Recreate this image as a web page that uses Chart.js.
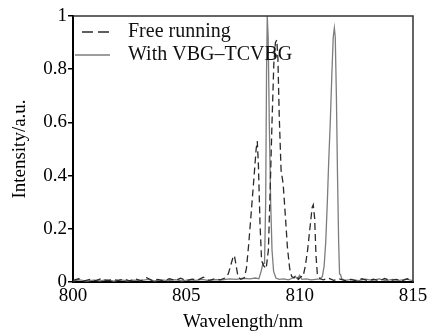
<!DOCTYPE html>
<html>
<head>
<meta charset="utf-8">
<script src="https://cdn.jsdelivr.net/npm/chart.js@4.4.1/dist/chart.umd.min.js"></script>
<style>
    body { margin: 0; background: #fff; }
    #chartBox { width: 431px; height: 331px; }
</style>
</head>
<body>
<div id="chartBox"><canvas id="spectrum"></canvas></div>
<script>
// free running (dashed)
var freeWavelength = [
    800.00, 800.25, 800.50, 800.75, 801.00, 801.25, 801.50, 801.75, 802.00, 802.25,
    802.50, 802.75, 803.00, 803.25, 803.50, 803.75, 804.00, 804.25, 804.50, 804.75,
    805.00, 805.25, 805.50, 805.75, 806.00, 806.25, 806.50, 806.70, 806.85, 806.95,
    807.05, 807.12, 807.20, 807.28, 807.40, 807.55, 807.65, 807.75, 807.88, 808.00,
    808.08, 808.13, 808.18, 808.25, 808.32, 808.42, 808.52, 808.62, 808.70, 808.78,
    808.86, 808.93, 808.99, 809.04, 809.10, 809.18, 809.27, 809.36, 809.46, 809.56,
    809.65, 809.75, 809.85, 809.95, 810.05, 810.15, 810.25, 810.35, 810.45, 810.55,
    810.60, 810.66, 810.72, 810.78, 810.90, 811.05, 811.25, 811.50, 811.75, 812.00,
    812.25, 812.50, 812.75, 813.00, 813.25, 813.50, 813.75, 814.00, 814.25, 814.50,
    814.75, 815.00
];
var freeIntensity = [
    0.006, 0.012, 0.004, 0.010, 0.005, 0.013, 0.004, 0.009, 0.006, 0.011,
    0.004, 0.012, 0.005, 0.016, 0.005, 0.010, 0.004, 0.012, 0.006, 0.014,
    0.005, 0.011, 0.007, 0.018, 0.006, 0.012, 0.008, 0.015, 0.030, 0.060,
    0.090, 0.100, 0.060, 0.020, 0.010, 0.015, 0.050, 0.140, 0.280, 0.410,
    0.500, 0.530, 0.440, 0.220, 0.080, 0.060, 0.050, 0.120, 0.350, 0.600,
    0.820, 0.900, 0.910, 0.840, 0.620, 0.420, 0.370, 0.260, 0.130, 0.050,
    0.020, 0.015, 0.025, 0.010, 0.020, 0.020, 0.060, 0.120, 0.200, 0.280,
    0.290, 0.240, 0.100, 0.030, 0.012, 0.008, 0.015, 0.006, 0.012, 0.005,
    0.010, 0.004, 0.012, 0.005, 0.011, 0.004, 0.013, 0.005, 0.010, 0.004,
    0.012, 0.005
];

// with VBG-TCVBG (solid)
var vbgWavelength = [
    800.00, 800.30, 800.60, 800.90, 801.20, 801.50, 801.80, 802.10, 802.40, 802.70,
    803.00, 803.30, 803.60, 803.90, 804.20, 804.50, 804.80, 805.10, 805.40, 805.70,
    806.00, 806.30, 806.60, 806.90, 807.20, 807.50, 807.80, 808.05, 808.20, 808.30,
    808.38, 808.45, 808.50, 808.54, 808.57, 808.61, 808.66, 808.72, 808.78, 808.85,
    808.95, 809.10, 809.30, 809.50, 809.70, 809.80, 809.90, 810.00, 810.10, 810.30,
    810.50, 810.70, 810.90, 811.00, 811.08, 811.15, 811.22, 811.28, 811.35, 811.42,
    811.48, 811.53, 811.57, 811.62, 811.67, 811.72, 811.76, 811.80, 811.86, 812.00,
    812.30, 812.60, 812.90, 813.20, 813.50, 813.80, 814.10, 814.40, 814.70, 815.00
];
var vbgIntensity = [
    0.004, 0.008, 0.003, 0.007, 0.004, 0.009, 0.003, 0.008, 0.004, 0.007,
    0.005, 0.010, 0.004, 0.008, 0.005, 0.009, 0.004, 0.008, 0.006, 0.010,
    0.005, 0.009, 0.008, 0.012, 0.010, 0.014, 0.012, 0.015, 0.012, 0.040,
    0.070, 0.070, 0.300, 0.800, 1.000, 0.920, 0.600, 0.300, 0.120, 0.040,
    0.015, 0.010, 0.012, 0.008, 0.015, 0.022, 0.012, 0.025, 0.010, 0.012,
    0.008, 0.010, 0.012, 0.020, 0.060, 0.150, 0.300, 0.450, 0.600, 0.780,
    0.920, 0.955, 0.920, 0.700, 0.400, 0.150, 0.030, 0.028, 0.012, 0.006,
    0.010, 0.005, 0.011, 0.006, 0.012, 0.005, 0.010, 0.006, 0.011, 0.005
];

var xTicks = [800, 805, 810, 815];
var yTicks = [0, 0.2, 0.4, 0.6, 0.8, 1];
var legendLabels = ['Free running', 'With VBG\u2013TCVBG'];

var serif = '"Liberation Serif", "Times New Roman", serif';

function toPoints(xs, ys) {
    return xs.map(function (x, i) {
        return { x: x, y: ys[i] };
    });
}

// top and right frame lines
var framePlugin = {
    id: 'frame',
    afterDraw: function (chart) {
        var a = chart.chartArea;
        var ctx = chart.ctx;
        ctx.save();
        ctx.strokeStyle = '#333';
        ctx.lineWidth = 1.5;
        ctx.beginPath();
        ctx.moveTo(a.left, a.top);
        ctx.lineTo(a.right, a.top);
        ctx.lineTo(a.right, a.bottom);
        ctx.stroke();
        ctx.restore();
    }
};

// legend inside the plot, top left
var legendPlugin = {
    id: 'insideLegend',
    afterDraw: function (chart) {
        var ctx = chart.ctx;
        var sets = chart.data.datasets;
        ctx.save();
        ctx.font = '20px ' + serif;
        ctx.textBaseline = 'middle';
        ctx.fillStyle = '#111';
        for (var i = 0; i < sets.length; i++) {
            var y = 32 + i * 23;
            ctx.strokeStyle = sets[i].borderColor;
            ctx.lineWidth = 1.3;
            ctx.setLineDash(sets[i].borderDash ? [11, 5] : []);
            ctx.beginPath();
            ctx.moveTo(i === 0 ? 82 : 75, y);
            ctx.lineTo(110, y);
            ctx.stroke();
            ctx.setLineDash([]);
            ctx.fillText(sets[i].label, 128, y);
        }
        ctx.restore();
    }
};

new Chart(document.getElementById('spectrum'), {
    type: 'line',
    data: {
        datasets: [{
            label: legendLabels[0],
            data: toPoints(freeWavelength, freeIntensity),
            borderColor: '#2b2b2b',
            borderWidth: 1.3,
            borderDash: [7, 4],
            pointRadius: 0,
            tension: 0
        }, {
            label: legendLabels[1],
            data: toPoints(vbgWavelength, vbgIntensity),
            borderColor: '#7d7d7d',
            borderWidth: 1.3,
            pointRadius: 0,
            tension: 0
        }]
    },
    options: {
        responsive: true,
        maintainAspectRatio: false,
        animation: false,
        layout: { padding: { top: 16, right: 18, left: 0, bottom: 0 } },
        plugins: {
            legend: { display: false },
            tooltip: { enabled: false }
        },
        scales: {
            x: {
                type: 'linear',
                min: 800,
                max: 815,
                afterFit: function (scale) { scale.height = 49; },
                afterBuildTicks: function (scale) {
                    scale.ticks = xTicks.map(function (v) { return { value: v }; });
                },
                ticks: {
                    padding: 3,
                    color: '#000',
                    font: { family: serif, size: 19 }
                },
                grid: { display: false, drawTicks: false },
                border: { color: '#000', width: 2 },
                title: {
                    display: true,
                    text: 'Wavelength/nm',
                    color: '#000',
                    padding: { top: 0, bottom: 0 },
                    font: { family: serif, size: 19, lineHeight: 0.9 }
                }
            },
            y: {
                min: 0,
                max: 1,
                afterFit: function (scale) { scale.width = 73; },
                afterBuildTicks: function (scale) {
                    scale.ticks = yTicks.map(function (v) { return { value: v }; });
                },
                ticks: {
                    padding: 1,
                    color: '#000',
                    font: { family: serif, size: 19 },
                    callback: function (v) { return String(v); }
                },
                grid: {
                    drawOnChartArea: false,
                    drawTicks: true,
                    tickLength: 5,
                    color: '#000',
                    lineWidth: 1.5
                },
                border: { color: '#000', width: 2 },
                title: {
                    display: true,
                    text: 'Intensity/a.u.',
                    color: '#000',
                    padding: { top: 11, bottom: 0 },
                    font: { family: serif, size: 19, lineHeight: 1 }
                }
            }
        }
    },
    plugins: [framePlugin, legendPlugin]
});
</script>
</body>
</html>
